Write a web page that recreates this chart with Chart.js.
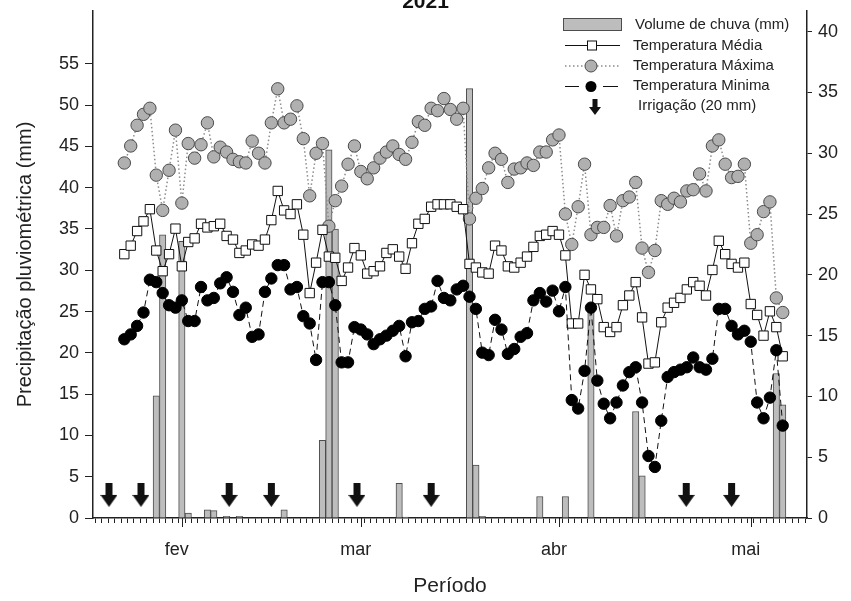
<!DOCTYPE html>
<html>
<head>
<meta charset="utf-8">
<script src="https://cdn.jsdelivr.net/npm/chart.js@4.4.0/dist/chart.umd.min.js"></script>
<style>
  html, body { margin: 0; padding: 0; background: #fff; }
</style>
</head>
<body>
<canvas id="chart-clima-2021" width="851" height="601"></canvas>
<script>
// dia 0 = 23/jan/2021 (um ponto por dia ate 06/mai)
const inicioMes = [9, 37, 68, 98];
const meses = ['fev', 'mar', 'abr', 'mai'];

const tempMedia = [
  21.7, 22.4, 23.6, 24.4, 25.4, 22.0, 20.3, 21.7, 23.8, 20.7,
  22.7, 23.0, 24.2, 23.9, 24.0, 24.2, 23.2, 22.9, 21.8, 22.0,
  22.5, 22.4, 22.9, 24.5, 26.9, 25.3, 25.0, 25.8, 23.3, 18.5,
  21.0, 23.7, 21.5, 21.4, 19.5, 20.6, 22.2, 21.6, 20.1, 20.3,
  20.7, 21.8, 22.1, 21.5, 20.5, 22.6, 24.2, 24.6, 25.6, 25.8,
  25.8, 25.8, 25.6, 25.4, 20.9, 20.6, 20.2, 20.1, 22.4, 22.0,
  20.7, 20.6, 21.0, 21.5, 22.3, 23.2, 23.3, 23.6, 23.3, 21.6,
  16.0, 16.0, 20.0, 18.8, 18.0, 15.7, 15.3, 15.7, 17.5, 18.3,
  19.4, 16.5, 12.7, 12.8, 16.1, 17.3, 17.7, 18.1, 18.8, 19.4,
  19.1, 18.3, 20.4, 22.8, 21.7, 20.9, 20.6, 21.0, 17.6, 16.7,
  15.0, 17.0, 15.7, 13.3
];

const tempMaxima = [
  29.2, 30.6, 32.3, 33.2, 33.7, 28.2, 25.3, 28.6, 31.9, 25.9,
  30.8, 29.6, 30.7, 32.5, 29.7, 30.5, 30.1, 29.5, 29.3, 29.2,
  31.0, 30.0, 29.2, 32.5, 35.3, 32.5, 32.8, 33.9, 31.2, 26.5,
  30.0, 30.8, 24.0, 26.1, 27.3, 29.1, 30.6, 28.5, 27.9, 28.8,
  29.6, 30.1, 30.6, 29.9, 29.5, 30.9, 32.6, 32.3, 33.7, 33.5,
  34.5, 33.6, 32.8, 33.7, 24.6, 26.3, 27.1, 28.8, 30.0, 29.5,
  27.6, 28.7, 28.8, 29.2, 29.0, 30.1, 30.1, 31.1, 31.5, 25.0,
  22.5, 25.6, 29.1, 23.3, 23.9, 23.9, 25.7, 23.2, 26.1, 26.4,
  27.6, 22.2, 20.2, 22.0, 26.1, 25.8, 26.3, 26.0, 26.9, 27.0,
  28.3, 26.9, 30.6, 31.1, 29.1, 28.0, 28.1, 29.1, 22.6, 23.3,
  25.2, 26.0, 18.1, 16.9
];

const tempMinima = [
  14.7, 15.1, 15.8, 16.9, 19.6, 19.4, 18.5, 17.5, 17.3, 17.9,
  16.2, 16.2, 19.0, 17.9, 18.1, 19.3, 19.8, 18.6, 16.7, 17.3,
  14.9, 15.1, 18.6, 19.7, 20.8, 20.8, 18.8, 19.0, 16.6, 16.0,
  13.0, 19.4, 19.4, 17.5, 12.8, 12.8, 15.7, 15.5, 15.1, 14.3,
  14.7, 15.0, 15.4, 15.8, 13.3, 16.1, 16.2, 17.2, 17.4, 19.5,
  18.1, 17.9, 18.8, 19.1, 18.2, 17.2, 13.6, 13.4, 16.3, 15.5,
  13.5, 13.9, 14.9, 15.2, 17.9, 18.5, 17.8, 18.7, 17.0, 19.0,
  9.7, 9.0, 12.1, 17.3, 11.3, 9.4, 8.2, 9.5, 10.9, 12.0,
  12.4, 9.5, 5.1, 4.2, 8.0, 11.6, 12.0, 12.2, 12.4, 13.2,
  12.4, 12.2, 13.1, 17.2, 17.2, 15.8, 15.1, 15.4, 14.5, 9.5,
  8.2, 9.9, 13.8, 7.6
];

const chuvaDias = [5, 6, 9, 10, 13, 14, 16, 18, 25, 31, 32, 33, 43, 44, 54, 55, 56, 65, 69, 73, 80, 81, 102, 103];
const chuvaMm = [14.8, 34.3, 33.5, 0.6, 1.0, 0.9, 0.2, 0.2, 1.0, 9.4, 44.6, 35.0, 4.2, 0.1, 52.0, 6.4, 0.2, 2.6, 2.6, 25.5, 12.9, 5.1, 17.5, 13.7];

const irrigacaoDias = [-2.4, 2.6, 16.4, 23, 36.4, 48, 87.9, 95];

const ticksPrecip = [0, 5, 10, 15, 20, 25, 30, 35, 40, 45, 50, 55];
const ticksTemp = [0, 5, 10, 15, 20, 25, 30, 35, 40];

const fonte = '"Liberation Sans", Arial, sans-serif';
const corTexto = '#222';
const chuvaCor = '#bdbdbd';
const chuvaBorda = '#4d4d4d';
const maxCor = '#b0b0b0';
const maxBorda = '#4a4a4a';
const maxLinha = '#8c8c8c';

function seta(w, h) {
  const c = document.createElement('canvas');
  c.width = w;
  c.height = h;
  const g = c.getContext('2d');
  const sw = Math.round(w * 0.42);
  const hh = Math.round(h * 0.5);
  g.fillStyle = '#111';
  g.beginPath();
  g.moveTo((w - sw) / 2, 0);
  g.lineTo((w + sw) / 2, 0);
  g.lineTo((w + sw) / 2, h - hh);
  g.lineTo(w, h - hh);
  g.lineTo(w / 2, h);
  g.lineTo(0, h - hh);
  g.lineTo((w - sw) / 2, h - hh);
  g.closePath();
  g.fill();
  return c;
}

const setaGrande = seta(17, 24);
const setaPequena = seta(12, 16);

const diasEixo = [];
for (let d = -4; d <= 106; d++) diasEixo.push(d);

// ticks maiores no inicio de cada mes + legenda dentro do grafico
const extras = {
  id: 'extras',
  afterDraw(chart) {
    const ctx = chart.ctx;
    const x = chart.scales.x;
    const base = chart.chartArea.bottom;
    ctx.save();
    ctx.strokeStyle = corTexto;
    ctx.lineWidth = 1;
    ctx.beginPath();
    inicioMes.forEach(d => {
      const px = Math.round(x.getPixelForValue(d)) + 0.5;
      ctx.moveTo(px, base);
      ctx.lineTo(px, base + 9);
    });
    ctx.stroke();

    ctx.font = '15px ' + fonte;
    ctx.textBaseline = 'middle';
    ctx.textAlign = 'left';

    // chuva
    ctx.fillStyle = chuvaCor;
    ctx.fillRect(563, 18, 59, 13);
    ctx.strokeStyle = chuvaBorda;
    ctx.strokeRect(563.5, 18.5, 58, 12);
    ctx.fillStyle = corTexto;
    ctx.fillText('Volume de chuva (mm)', 635, 25);

    // media
    ctx.strokeStyle = '#111';
    ctx.beginPath();
    ctx.moveTo(565, 45.5);
    ctx.lineTo(620, 45.5);
    ctx.stroke();
    ctx.fillStyle = '#fff';
    ctx.fillRect(587.5, 41, 9, 9);
    ctx.strokeRect(587.5, 41, 9, 9);
    ctx.fillStyle = corTexto;
    ctx.fillText('Temperatura Média', 633, 46);

    // maxima
    ctx.strokeStyle = maxLinha;
    ctx.lineWidth = 1.5;
    ctx.setLineDash([1.5, 2.5]);
    ctx.beginPath();
    ctx.moveTo(565, 66);
    ctx.lineTo(620, 66);
    ctx.stroke();
    ctx.setLineDash([]);
    ctx.lineWidth = 1;
    ctx.beginPath();
    ctx.arc(591, 66, 6, 0, Math.PI * 2);
    ctx.fillStyle = maxCor;
    ctx.fill();
    ctx.strokeStyle = maxBorda;
    ctx.stroke();
    ctx.fillStyle = corTexto;
    ctx.fillText('Temperatura Máxima', 633, 66);

    // minima
    ctx.strokeStyle = '#111';
    ctx.beginPath();
    ctx.moveTo(565, 86.5);
    ctx.lineTo(579, 86.5);
    ctx.moveTo(603, 86.5);
    ctx.lineTo(618, 86.5);
    ctx.stroke();
    ctx.beginPath();
    ctx.arc(591, 86.5, 5.5, 0, Math.PI * 2);
    ctx.fillStyle = '#000';
    ctx.fill();
    ctx.fillStyle = corTexto;
    ctx.fillText('Temperatura Minima', 633, 86);

    // irrigacao
    ctx.drawImage(setaPequena, 589, 99);
    ctx.fillText('Irrigação (20 mm)', 638, 106);
    ctx.restore();
  }
};

Chart.defaults.font.family = fonte;
Chart.defaults.color = corTexto;

new Chart(document.getElementById('chart-clima-2021'), {
  type: 'line',
  data: {
    datasets: [
      {
        type: 'bar',
        label: 'Volume de chuva (mm)',
        data: chuvaDias.map((d, k) => ({ x: d, y: chuvaMm[k] })),
        backgroundColor: chuvaCor,
        borderColor: chuvaBorda,
        borderWidth: 1,
        barPercentage: 1,
        categoryPercentage: 1,
        yAxisID: 'y',
        order: 10
      },
      {
        label: 'Temperatura Máxima',
        data: tempMaxima.map((v, i) => ({ x: i, y: v })),
        borderColor: maxLinha,
        borderWidth: 1.5,
        borderDash: [1.5, 2.5],
        pointStyle: 'circle',
        pointRadius: 6.2,
        pointBackgroundColor: maxCor,
        pointBorderColor: maxBorda,
        pointBorderWidth: 1,
        tension: 0,
        yAxisID: 'y1',
        order: 3
      },
      {
        label: 'Temperatura Média',
        data: tempMedia.map((v, i) => ({ x: i, y: v })),
        borderColor: '#111',
        borderWidth: 1,
        pointStyle: 'rect',
        pointRadius: 6.6,
        pointBackgroundColor: '#fff',
        pointBorderColor: '#111',
        pointBorderWidth: 1,
        tension: 0,
        yAxisID: 'y1',
        order: 2
      },
      {
        label: 'Temperatura Minima',
        data: tempMinima.map((v, i) => ({ x: i, y: v })),
        borderColor: '#111',
        borderWidth: 1,
        borderDash: [6, 4],
        pointStyle: 'circle',
        pointRadius: 5.7,
        pointBackgroundColor: '#000',
        pointBorderColor: '#000',
        pointBorderWidth: 1,
        tension: 0,
        yAxisID: 'y1',
        order: 1
      },
      {
        label: 'Irrigação (20 mm)',
        data: irrigacaoDias.map(d => ({ x: d, y: 2.8 })),
        showLine: false,
        pointStyle: setaGrande,
        pointRadius: 10,
        yAxisID: 'y',
        order: 0
      }
    ]
  },
  options: {
    responsive: false,
    animation: false,
    layout: { padding: 0 },
    plugins: {
      legend: { display: false },
      tooltip: { enabled: false },
      title: {
        display: true,
        text: '2021',
        color: '#111',
        font: { size: 21, weight: 'bold' },
        padding: { top: -12.6, bottom: -3.6 }
      }
    },
    scales: {
      x: {
        type: 'linear',
        min: -4.9,
        max: 106.8,
        offset: false,
        afterBuildTicks: s => { s.ticks = diasEixo.map(v => ({ value: v })); },
        afterFit: s => { s.height = 83; },
        ticks: {
          autoSkip: false,
          maxRotation: 0,
          padding: 16,
          labelOffset: -5,
          font: { size: 18 },
          callback: v => {
            const k = inicioMes.indexOf(v);
            return k >= 0 ? meses[k] : '';
          }
        },
        grid: { drawOnChartArea: false, tickLength: 5, tickColor: corTexto },
        border: { color: corTexto, width: 1.5 },
        title: {
          display: true,
          text: 'Período',
          font: { size: 21 },
          padding: { top: 0, bottom: 2 }
        }
      },
      y: {
        position: 'left',
        min: 0,
        max: 61.4,
        afterBuildTicks: s => { s.ticks = ticksPrecip.map(v => ({ value: v })); },
        afterFit: s => { s.width = 93; s.paddingTop = 0; s.paddingBottom = 0; },
        ticks: { font: { size: 18 }, padding: 6 },
        grid: { drawOnChartArea: false, tickLength: 8, tickColor: corTexto },
        border: { color: corTexto, width: 1.5 },
        title: {
          display: true,
          text: 'Precipitação pluviométrica (mm)',
          font: { size: 20 },
          padding: { top: 13, bottom: 0 }
        }
      },
      y1: {
        position: 'right',
        min: 0,
        max: 41.7,
        afterBuildTicks: s => { s.ticks = ticksTemp.map(v => ({ value: v })); },
        afterFit: s => { s.width = 44; s.paddingTop = 0; s.paddingBottom = 0; },
        ticks: { font: { size: 18 }, padding: 6 },
        grid: { drawOnChartArea: false, tickLength: 5, tickColor: corTexto },
        border: { color: corTexto, width: 1.5 }
      }
    }
  },
  plugins: [extras]
});
</script>
</body>
</html>
